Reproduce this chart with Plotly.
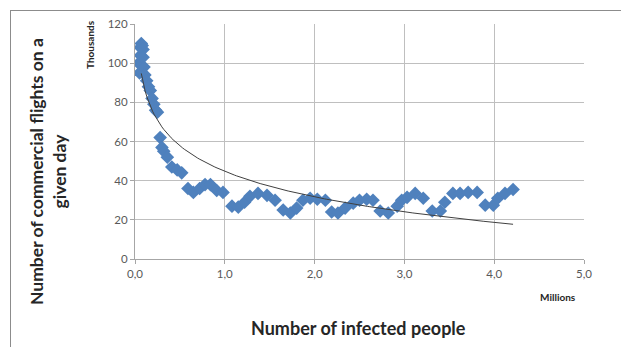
import numpy as np
import plotly.graph_objects as go

# Data: infected people (millions) vs flights (thousands)
infected_millions = [
    0.04, 0.05, 0.06, 0.06, 0.07, 0.08, 0.09, 0.09, 0.10, 0.11, 0.13, 0.15, 0.17,
    0.19, 0.21, 0.23, 0.25, 0.28, 0.30, 0.32, 0.36, 0.41, 0.47, 0.52, 0.59, 0.65,
    0.72, 0.78, 0.84, 0.91, 0.98, 1.08, 1.15, 1.22, 1.28, 1.37, 1.47, 1.56, 1.65,
    1.73, 1.80, 1.87, 1.95, 2.03, 2.12, 2.19, 2.26, 2.34, 2.43, 2.50, 2.58, 2.65,
    2.73, 2.82, 2.92, 2.97, 3.03, 3.12, 3.21, 3.31, 3.40, 3.45, 3.54, 3.62, 3.71,
    3.81, 3.90, 3.99, 4.04, 4.12, 4.21,
]
flights_thousands = [
    100, 95, 104, 108, 110, 109, 107, 103, 98, 94, 91, 88, 86,
    82, 79, 76, 75, 62, 57, 55, 52, 47, 45.5, 44, 36, 34,
    36, 38, 38, 35, 34, 27, 26.5, 29, 32, 33.5, 32.5, 30, 25,
    23.5, 26, 30, 31, 30.5, 30, 24, 23.5, 26, 28.5, 30, 30.5, 30,
    24.5, 23.5, 27, 30, 31.5, 33.5, 31, 24.5, 24.5, 29, 33.5, 33.5, 34,
    34, 27.5, 27.5, 31, 33.5, 35.5,
]
x_tick_vals = [0, 1, 2, 3, 4, 5]
x_tick_text = ["0,0", "1,0", "2,0", "3,0", "4,0", "5,0"]
y_tick_vals = [0, 20, 40, 60, 80, 100, 120]

# Logarithmic trendline fitted to the data (as a spreadsheet trendline would be)
xs = np.array(infected_millions)
ys = np.array(flights_thousands)
b, a = np.polyfit(np.log(xs), ys, 1)
trend_x = np.linspace(0.07, xs.max(), 200)
trend_y = a + b * np.log(trend_x)

FONT = "Lato, 'Open Sans', sans-serif"
FRAME = "#8C8C8C"

fig = go.Figure()
fig.add_trace(go.Scatter(
    x=infected_millions, y=flights_thousands, mode="markers",
    marker=dict(symbol="diamond", size=10.5, color="#4F81BD",
                line=dict(width=0)),
    showlegend=False, hoverinfo="skip",
))
fig.add_trace(go.Scatter(
    x=trend_x, y=trend_y, mode="lines",
    line=dict(color="#404040", width=1),
    showlegend=False, hoverinfo="skip",
))

fig.update_layout(
    width=621, height=347,
    margin=dict(l=135, r=37, t=24, b=88),
    paper_bgcolor="white", plot_bgcolor="white",
    font=dict(family=FONT, size=11, color="#595959"),
    hovermode=False,
    xaxis=dict(
        range=[0, 5], tickvals=x_tick_vals, ticktext=x_tick_text,
        showgrid=True, gridcolor="#BFBFBF", gridwidth=1,
        showline=True, linecolor="#A6A6A6", linewidth=1,
        ticks="outside", ticklen=4, tickcolor="#A6A6A6",
        zeroline=False, fixedrange=True,
        tickfont=dict(size=11.5, color="#595959"),
    ),
    yaxis=dict(
        range=[0, 120], tickvals=y_tick_vals,
        showgrid=True, gridcolor="#BFBFBF", gridwidth=1,
        showline=True, linecolor="#A6A6A6", linewidth=1,
        ticks="outside", ticklen=4, tickcolor="#A6A6A6",
        zeroline=False, fixedrange=True,
        tickfont=dict(size=11.5, color="#595959"),
    ),
    annotations=[
        dict(text="<b>Number of commercial flights on a<br>given day</b>",
             xref="paper", yref="paper", x=-0.1938, y=0.3745,
             xanchor="center", yanchor="middle", textangle=-90, showarrow=False,
             font=dict(family=FONT, size=17.5, color="#262626")),
        dict(text="<b>Thousands</b>", xref="paper", yref="paper",
             x=-0.1002, y=0.9106, xanchor="center", yanchor="middle",
             textangle=-90, showarrow=False,
             font=dict(family=FONT, size=10, color="#262626")),
        dict(text="<b>Number of infected people</b>", xref="paper", yref="paper",
             x=0.4967, y=-0.2936, xanchor="center", yanchor="middle",
             showarrow=False, font=dict(family=FONT, size=18, color="#262626")),
        dict(text="<b>Millions</b>", xref="paper", yref="paper",
             x=0.942, y=-0.1617, xanchor="center", yanchor="middle",
             showarrow=False, font=dict(family=FONT, size=10, color="#262626")),
        # outer chart frame: left edge
        dict(text=" ", xref="paper", yref="paper", x=-0.2795, y=1.0596,
             xanchor="left", yanchor="top", width=1, height=340,
             showarrow=False, bgcolor=FRAME, borderwidth=0, borderpad=0,
             font=dict(size=1)),
        # outer chart frame: top edge
        dict(text=" ", xref="paper", yref="paper", x=-0.2795, y=1.0596,
             xanchor="left", yanchor="top", width=615, height=1,
             showarrow=False, bgcolor=FRAME, borderwidth=0, borderpad=0,
             font=dict(size=1)),
    ],
)

fig.write_html("out.html", config={"displayModeBar": False, "staticPlot": True},
               post_script="document.body.style.margin='0px';")
